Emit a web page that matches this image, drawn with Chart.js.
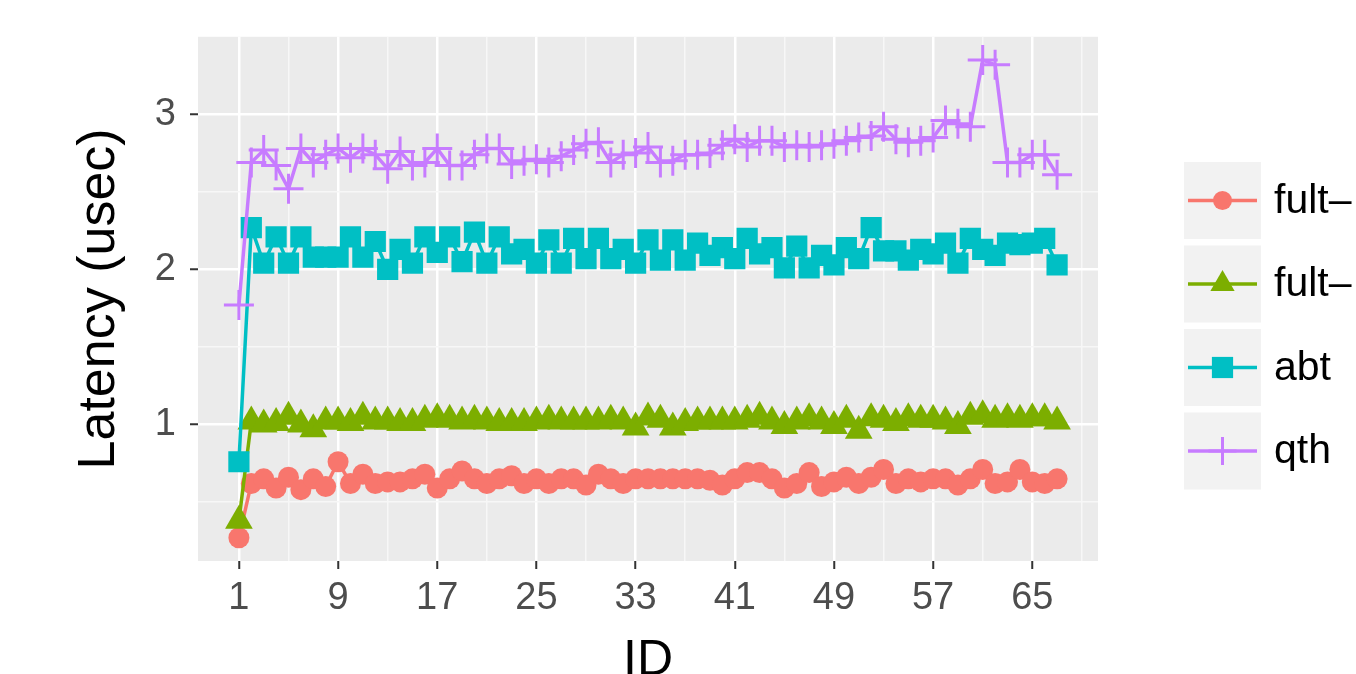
<!DOCTYPE html>
<html>
<head>
<meta charset="utf-8">
<script src="https://cdn.jsdelivr.net/npm/chart.js@4.4.0/dist/chart.umd.min.js"></script>
<style>
    html, body { margin: 0; padding: 0; background: #ffffff; }
    canvas { display: block; }
</style>
</head>
<body>
<canvas id="latency-chart" width="1356" height="674"></canvas>
<script>
// values
const ids = [1, 2, 3, 4, 5, 6, 7, 8, 9, 10, 11, 12, 13, 14, 15, 16, 17, 18, 19, 20,
    21, 22, 23, 24, 25, 26, 27, 28, 29, 30, 31, 32, 33, 34, 35, 36, 37, 38, 39, 40,
    41, 42, 43, 44, 45, 46, 47, 48, 49, 50, 51, 52, 53, 54, 55, 56, 57, 58, 59, 60,
    61, 62, 63, 64, 65, 66, 67];

const fultRed = [0.27, 0.62, 0.65, 0.59, 0.66, 0.58, 0.65, 0.60, 0.76, 0.62,
    0.68, 0.62, 0.63, 0.63, 0.65, 0.68, 0.59, 0.65, 0.70, 0.65,
    0.62, 0.65, 0.67, 0.62, 0.65, 0.62, 0.65, 0.65, 0.61, 0.68,
    0.65, 0.62, 0.65, 0.65, 0.65, 0.65, 0.65, 0.65, 0.64, 0.61,
    0.65, 0.69, 0.69, 0.65, 0.59, 0.62, 0.69, 0.60, 0.63, 0.66,
    0.62, 0.66, 0.71, 0.62, 0.65, 0.63, 0.65, 0.65, 0.61, 0.65,
    0.71, 0.62, 0.63, 0.71, 0.63, 0.62, 0.65];

const fultGreen = [0.38, 1.02, 1.00, 1.01, 1.05, 1.00, 0.97, 1.02, 1.02, 1.01,
    1.05, 1.02, 1.02, 1.01, 1.01, 1.03, 1.04, 1.03, 1.02, 1.03,
    1.02, 1.01, 1.01, 1.01, 1.02, 1.03, 1.02, 1.02, 1.02, 1.02,
    1.03, 1.02, 0.98, 1.045, 1.03, 0.98, 1.01, 1.02, 1.02, 1.02,
    1.02, 1.03, 1.05, 1.02, 0.99, 1.02, 1.04, 1.02, 0.99, 1.03,
    0.96, 1.04, 1.03, 1.01, 1.04, 1.03, 1.03, 1.02, 0.99, 1.05,
    1.06, 1.03, 1.04, 1.03, 1.04, 1.04, 1.02];

const abt = [0.76, 2.27, 2.04, 2.21, 2.04, 2.21, 2.08, 2.08, 2.08, 2.21,
    2.08, 2.18, 2.00, 2.13, 2.04, 2.21, 2.11, 2.21, 2.05, 2.24,
    2.04, 2.21, 2.10, 2.13, 2.04, 2.19, 2.04, 2.20, 2.07, 2.20,
    2.07, 2.13, 2.04, 2.19, 2.06, 2.19, 2.06, 2.17, 2.09, 2.14,
    2.07, 2.20, 2.10, 2.14, 2.01, 2.15, 2.01, 2.09, 2.03, 2.14,
    2.07, 2.27, 2.12, 2.12, 2.06, 2.13, 2.10, 2.17, 2.04, 2.20,
    2.13, 2.09, 2.17, 2.16, 2.17, 2.20, 2.03];

const qth = [1.77, 2.69, 2.77, 2.67, 2.52, 2.78, 2.69, 2.74, 2.78, 2.72,
    2.78, 2.74, 2.65, 2.76, 2.67, 2.69, 2.78, 2.67, 2.67, 2.74,
    2.78, 2.78, 2.68, 2.70, 2.71, 2.69, 2.73, 2.77, 2.81, 2.82,
    2.69, 2.74, 2.75, 2.79, 2.69, 2.70, 2.74, 2.74, 2.75, 2.80,
    2.84, 2.79, 2.83, 2.83, 2.79, 2.80, 2.79, 2.80, 2.81, 2.83,
    2.85, 2.86, 2.92, 2.84, 2.82, 2.83, 2.85, 2.96, 2.94, 2.92,
    3.35, 3.32, 2.69, 2.69, 2.74, 2.74, 2.61];

const seriesNames = ['fult\u2013', 'fult\u2013', 'abt', 'qth'];
const xTickLabels = [1, 9, 17, 25, 33, 41, 49, 57, 65];
const xMinorTicks = [5, 13, 21, 29, 37, 45, 53, 61, 69];
const yTickLabels = [1, 2, 3];
const yMinorTicks = [0.5, 1.5, 2.5];

const FONT = "'Liberation Sans', Arial, Helvetica, sans-serif";

const toPoints = values => values.map((v, i) => ({ x: ids[i], y: v }));

// grey panel behind the grid
const panelBackground = {
    id: 'panelBackground',
    beforeDraw(chart) {
        const { ctx, chartArea } = chart;
        ctx.save();
        ctx.fillStyle = '#EBEBEB';
        ctx.fillRect(chartArea.left, chartArea.top, chartArea.right - chartArea.left, chartArea.bottom - chartArea.top);
        ctx.restore();
    }
};

// ggplot style legend with grey keys on the right
const keyLegend = {
    id: 'keyLegend',
    afterDraw(chart) {
        const { ctx, chartArea } = chart;
        const keyLeft = chartArea.right + 86;
        const keySize = 77;
        const firstTop = 162;
        const step = 83.5;
        ctx.save();
        chart.data.datasets.forEach((ds, i) => {
            const top = firstTop + i * step;
            const cy = top + keySize / 2;
            const cx = keyLeft + keySize / 2;
            ctx.fillStyle = '#F2F2F2';
            ctx.fillRect(keyLeft, top, keySize, keySize);

            ctx.strokeStyle = ds.borderColor;
            ctx.lineWidth = ds.borderWidth;
            ctx.beginPath();
            ctx.moveTo(keyLeft + 4, cy);
            ctx.lineTo(keyLeft + keySize - 4, cy);
            ctx.stroke();

            ctx.fillStyle = ds.pointBackgroundColor;
            ctx.strokeStyle = ds.pointBorderColor;
            ctx.lineWidth = ds.pointBorderWidth;
            Chart.helpers.drawPoint(ctx, {
                pointStyle: ds.pointStyle,
                radius: ds.legendRadius,
                borderWidth: ds.pointBorderWidth,
                rotation: 0
            }, cx, cy);

            ctx.fillStyle = '#000000';
            ctx.font = '41px ' + FONT;
            ctx.textAlign = 'left';
            ctx.textBaseline = 'middle';
            ctx.fillText(ds.label, keyLeft + keySize + 13, cy + 1);
        });
        ctx.restore();
    }
};

const makeDataset = (label, values, color, style, radius, legendRadius, borderW, order) => ({
    label: label,
    data: toPoints(values),
    borderColor: color,
    backgroundColor: color,
    borderWidth: 3.5,
    pointStyle: style,
    pointRadius: radius,
    legendRadius: legendRadius,
    pointBackgroundColor: color,
    pointBorderColor: color,
    pointBorderWidth: borderW,
    tension: 0,
    order: order
});

const isMajorX = v => xTickLabels.includes(v);
const isMajorY = v => yTickLabels.includes(v);

const latencyChart = new Chart(document.getElementById('latency-chart'), {
    type: 'line',
    data: {
        datasets: [
            makeDataset(seriesNames[0], fultRed, '#F8766D', 'circle', 10.5, 9.5, 0, 4),
            makeDataset(seriesNames[1], fultGreen, '#7CAE00', 'triangle', 16, 14, 0, 3),
            makeDataset(seriesNames[2], abt, '#00BFC4', 'rect', 15, 15, 0, 2),
            makeDataset(seriesNames[3], qth, '#C77CFF', 'cross', 15, 14, 3, 1)
        ]
    },
    plugins: [panelBackground, keyLegend],
    options: {
        responsive: false,
        animation: false,
        devicePixelRatio: 1,
        layout: {
            padding: { left: 0, top: 35, right: 258, bottom: 0 }
        },
        plugins: {
            legend: { display: false },
            tooltip: { enabled: false }
        },
        scales: {
            x: {
                type: 'linear',
                min: -2.3,
                max: 70.3,
                afterBuildTicks: scale => {
                    scale.ticks = xTickLabels.concat(xMinorTicks).sort((a, b) => a - b).map(v => ({ value: v }));
                },
                afterFit: scale => { scale.height = 113; },
                border: { display: false },
                grid: {
                    color: c => (c.tick && isMajorX(c.tick.value)) ? '#FFFFFF' : '#F7F7F7',
                    lineWidth: c => (c.tick && isMajorX(c.tick.value)) ? 2.5 : 1.5,
                    tickColor: c => (c.tick && isMajorX(c.tick.value)) ? '#333333' : 'rgba(0,0,0,0)',
                    tickWidth: 2,
                    tickLength: 8
                },
                ticks: {
                    autoSkip: false,
                    maxRotation: 0,
                    padding: 7,
                    color: '#4D4D4D',
                    font: { family: FONT, size: 38 },
                    callback: v => isMajorX(v) ? String(v) : ''
                },
                title: {
                    display: true,
                    text: 'ID',
                    color: '#000000',
                    font: { family: FONT, size: 50, lineHeight: 0.5 },
                    padding: { top: 0, bottom: 0 }
                }
            },
            y: {
                type: 'linear',
                min: 0.12,
                max: 3.5,
                afterBuildTicks: scale => {
                    scale.ticks = yTickLabels.concat(yMinorTicks).sort((a, b) => a - b).map(v => ({ value: v }));
                },
                afterFit: scale => { scale.width = 198; },
                border: { display: false },
                grid: {
                    color: c => (c.tick && isMajorY(c.tick.value)) ? '#FFFFFF' : '#F7F7F7',
                    lineWidth: c => (c.tick && isMajorY(c.tick.value)) ? 2.5 : 1.5,
                    tickColor: c => (c.tick && isMajorY(c.tick.value)) ? '#333333' : 'rgba(0,0,0,0)',
                    tickWidth: 2,
                    tickLength: 8
                },
                ticks: {
                    autoSkip: false,
                    padding: 14,
                    color: '#4D4D4D',
                    font: { family: FONT, size: 38 },
                    callback: v => isMajorY(v) ? String(v) : ''
                },
                title: {
                    display: true,
                    text: 'Latency (usec)',
                    color: '#000000',
                    font: { family: FONT, size: 52, lineHeight: 1.2 },
                    padding: { top: 68, bottom: 0 }
                }
            }
        }
    }
});
</script>
</body>
</html>
